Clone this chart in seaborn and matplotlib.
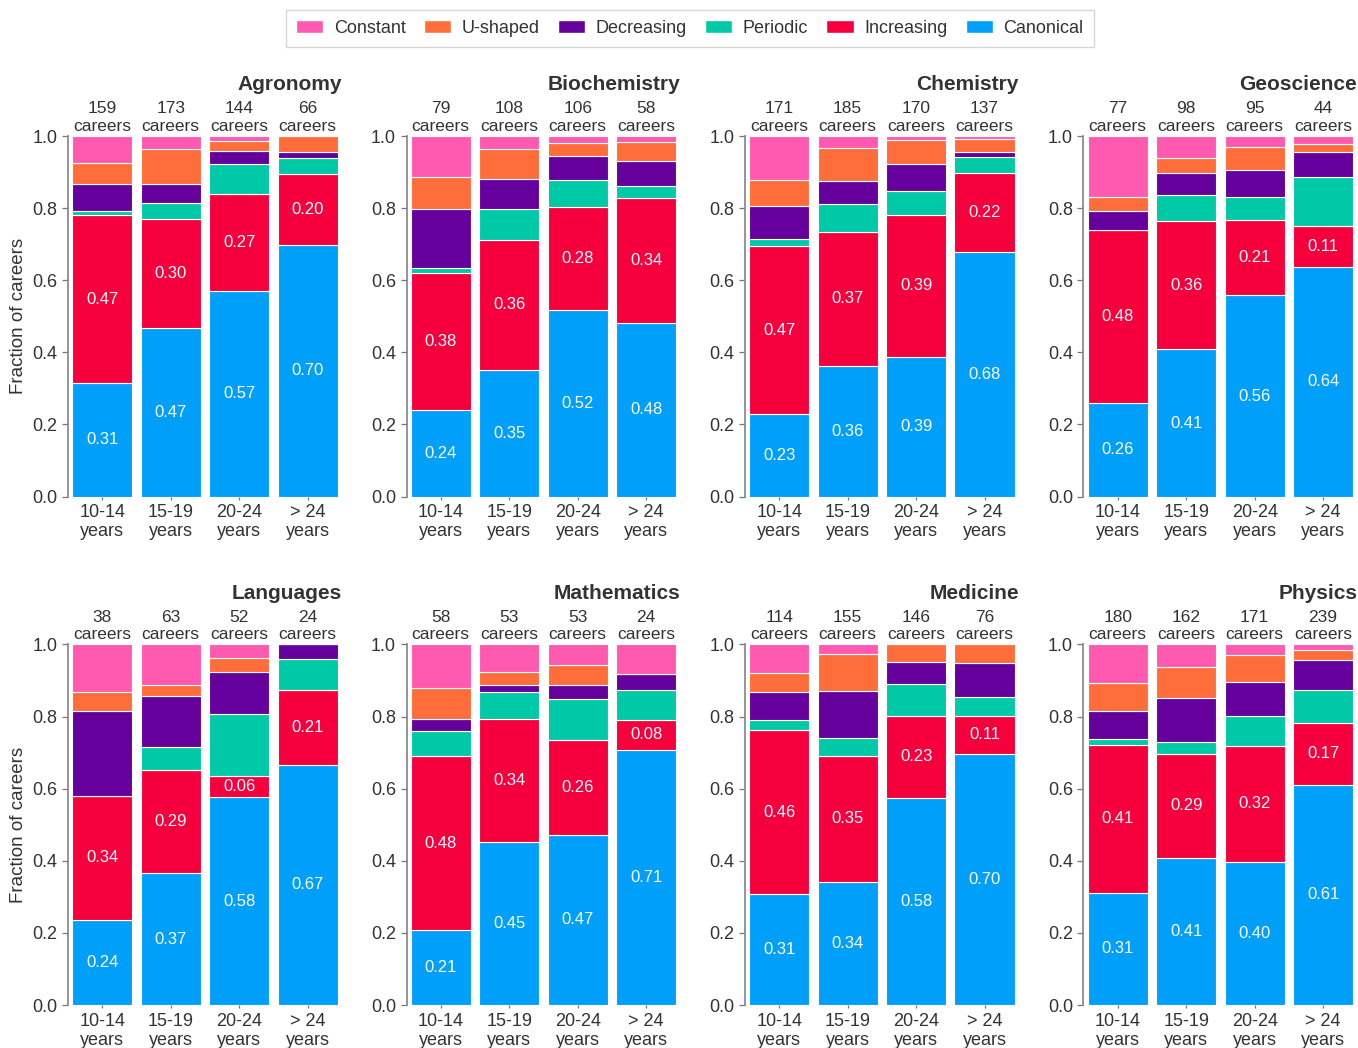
import numpy as np
import pandas as pd
import matplotlib
matplotlib.use("Agg")
import matplotlib.pyplot as plt
import seaborn as sns
from matplotlib.patches import Patch

fields = ["Agronomy", "Biochemistry", "Chemistry", "Geoscience",
          "Languages", "Mathematics", "Medicine", "Physics"]
age_groups = ["10-14\nyears", "15-19\nyears", "20-24\nyears", "> 24\nyears"]
categories = ["Constant", "U-shaped", "Decreasing", "Periodic", "Increasing", "Canonical"]
colors = ["#ff5aaf", "#ff6e3a", "#65009c", "#00c9a7", "#f5003d", "#009ffa"]

# number of careers per trajectory type: one row per field, one value per age group
canonical_counts = [
    [50, 81, 82, 46],
    [19, 38, 55, 28],
    [39, 67, 66, 93],
    [20, 40, 53, 28],
    [9, 23, 30, 16],
    [12, 24, 25, 17],
    [35, 53, 84, 53],
    [56, 66, 68, 146],
]
increasing_counts = [
    [74, 52, 39, 13],
    [30, 39, 30, 20],
    [80, 69, 67, 30],
    [37, 35, 20, 5],
    [13, 18, 3, 5],
    [28, 18, 14, 2],
    [52, 54, 33, 8],
    [74, 47, 55, 41],
]
periodic_counts = [
    [2, 8, 12, 3],
    [1, 9, 8, 2],
    [3, 14, 11, 6],
    [0, 7, 6, 6],
    [0, 4, 9, 2],
    [4, 4, 6, 2],
    [3, 8, 13, 4],
    [3, 5, 14, 22],
]
decreasing_counts = [
    [12, 9, 5, 1],
    [13, 9, 7, 4],
    [16, 12, 13, 2],
    [4, 6, 7, 3],
    [9, 9, 6, 1],
    [2, 1, 2, 1],
    [9, 20, 9, 7],
    [14, 20, 16, 20],
]
ushaped_counts = [
    [9, 17, 4, 3],
    [7, 9, 4, 3],
    [12, 17, 11, 5],
    [3, 4, 6, 1],
    [2, 2, 2, 0],
    [5, 2, 3, 0],
    [6, 16, 7, 4],
    [14, 14, 13, 6],
]
constant_counts = [
    [12, 6, 2, 0],
    [9, 4, 2, 1],
    [21, 6, 2, 1],
    [13, 6, 3, 1],
    [5, 7, 2, 0],
    [7, 4, 3, 2],
    [9, 4, 0, 0],
    [19, 10, 5, 4],
]

counts_by_cat = {
    "Constant": constant_counts,
    "U-shaped": ushaped_counts,
    "Decreasing": decreasing_counts,
    "Periodic": periodic_counts,
    "Increasing": increasing_counts,
    "Canonical": canonical_counts,
}

rows = []
for fi, field in enumerate(fields):
    for ai in range(len(age_groups)):
        for cat in categories:
            rows.append({"field": field, "age": ai, "category": cat,
                         "count": counts_by_cat[cat][fi][ai]})
df = pd.DataFrame(rows)
df["total"] = df.groupby(["field", "age"])["count"].transform("sum")
df["fraction"] = df["count"] / df["total"]

sns.set_theme(style="ticks")
plt.rcParams["font.family"] = ["Liberation Sans", "DejaVu Sans"]
text_color = "#333333"
palette = dict(zip(categories, colors))

fig, axes = plt.subplots(2, 4, figsize=(13.58, 10.48), dpi=100)
fig.subplots_adjust(left=0.0501, right=0.9995, top=0.8702, bottom=0.041,
                    wspace=0.236, hspace=0.41)

for fi, (field, ax) in enumerate(zip(fields, axes.flat)):
    sub = df[df["field"] == field]
    sns.histplot(data=sub, x="age", weights="fraction", hue="category",
                 hue_order=categories, palette=palette, multiple="stack",
                 discrete=True, shrink=0.88, alpha=1, edgecolor="white",
                 linewidth=0.8, legend=False, ax=ax)

    for ai in range(len(age_groups)):
        s = sub[sub["age"] == ai].set_index("category")
        can = s.loc["Canonical", "fraction"]
        inc = s.loc["Increasing", "fraction"]
        ax.text(ai, can / 2, f"{can:.2f}", ha="center", va="center",
                color="white", fontsize=12)
        ax.text(ai, can + inc / 2, f"{inc:.2f}", ha="center", va="center",
                color="white", fontsize=12)
        ax.text(ai, 1.006, f"{int(s['total'].iloc[0])}\ncareers", ha="center",
                va="bottom", fontsize=12.5, color=text_color, linespacing=1.2)

    ax.set_xlim(-0.5, 3.5)
    ax.set_ylim(0, 1)
    ax.set_xticks(range(len(age_groups)))
    ax.set_xticklabels(age_groups, fontsize=13, color=text_color, linespacing=1.15)
    ax.set_yticks(np.arange(0, 1.01, 0.2))
    ax.set_yticklabels([f"{v:.1f}" for v in np.arange(0, 1.01, 0.2)],
                       fontsize=13, color=text_color)
    ax.tick_params(axis="both", colors="#777777", labelcolor=text_color,
                   length=4, width=0.9)
    ax.tick_params(axis="x", length=2)
    ax.set_xlabel("")
    if fi % 4 == 0:
        ax.set_ylabel("Fraction of careers", fontsize=13.5, color=text_color)
    else:
        ax.set_ylabel("")
    ax.set_title(field, loc="right", fontsize=15, fontweight="bold",
                 color=text_color, pad=33)
    sns.despine(ax=ax, bottom=True)
    ax.spines["left"].set_color("#888888")

handles = [Patch(facecolor=palette[c], edgecolor="white", label=c) for c in categories]
leg = fig.legend(handles=handles, loc="upper center", ncol=6,
                 bbox_to_anchor=(0.508, 0.9905), borderaxespad=0, fontsize=13,
                 frameon=True, fancybox=False, handlelength=1.5,
                 handleheight=0.75, columnspacing=1.0, handletextpad=0.6,
                 borderpad=0.55)
leg.get_frame().set_edgecolor("#cccccc")
for t in leg.get_texts():
    t.set_color(text_color)

fig.savefig("out.png", dpi=100)
